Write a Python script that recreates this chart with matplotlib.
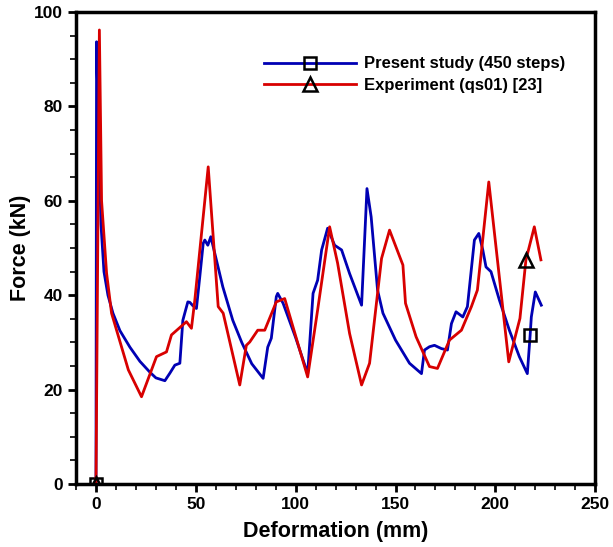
import numpy as np
import matplotlib.pyplot as plt
from matplotlib.ticker import MultipleLocator

plt.rcParams['font.family'] = ['Liberation Sans', 'DejaVu Sans']
plt.rcParams['font.weight'] = 'bold'

# present study (450 steps)
x_sim = [0, 0.3, 1.5, 2.5, 4, 6, 8.5, 12, 17, 22, 27, 30, 34.5, 37, 39.5, 42, 43.5,
         46, 47, 48.5, 50.3, 52, 53.7, 54.5, 56, 57.5, 60, 63.5, 68.5, 73, 78, 83.7,
         86, 87.8, 90.3, 91, 93.7, 100, 106, 108.7, 111, 113, 116, 119.5, 123, 127,
         133, 135.7, 137.8, 141, 143.7, 150, 157, 163, 164.5, 167, 169.5, 173, 176,
         178, 180.3, 183.7, 186, 189.5, 191.7, 193.7, 195.3, 197.8, 202, 207, 212,
         216, 217.4, 218, 220, 223]
f_sim = [0, 93.7, 70, 55, 45, 40, 36.2, 32.5, 29, 26, 23.7, 22.5, 21.9, 23.5, 25.2,
         25.6, 34.7, 38.6, 38.5, 37.8, 37.2, 44, 51, 51.7, 50.6, 52.4, 48, 41.8, 34.7,
         30, 25.5, 22.4, 29, 30.9, 39.7, 40.4, 38.3, 31, 23.4, 40.4, 43.2, 49.6, 54.2,
         50.6, 49.6, 44.6, 37.9, 62.6, 56.6, 41.1, 36.2, 30.5, 25.6, 23.4, 28.4, 29.1,
         29.4, 28.7, 28.4, 34, 36.5, 35.4, 37.6, 51.7, 53.1, 49.6, 46, 45, 39, 32.6,
         27, 23.4, 31.5, 35.4, 40.7, 37.9]

# experiment (qs01) [23]
x_exp = [0, 1.7, 2.8, 5.3, 7.8, 16.2, 22.8, 30.3, 35.3, 37.8, 45.3, 47.8, 49.5,
         56.2, 61.2, 63.7, 72, 75.3, 77, 81, 84.5, 90.3, 94.5, 106, 111, 117, 121,
         127, 133, 137, 143, 147, 153.7, 155, 160.3, 167, 171, 177, 183, 188, 191,
         196.7, 206.7, 212.3, 215.3, 219.5, 222.8]
f_exp = [0, 96.2, 60, 44.7, 36.2, 24.2, 18.5, 27, 28, 31.6, 34.4, 33, 39, 67.2,
         37.6, 36.2, 21, 29.4, 30.1, 32.6, 32.6, 38.6, 39.3, 22.7, 36.9, 54.5, 46.8,
         31.9, 21, 25.6, 47.8, 53.8, 46.4, 38.3, 31.2, 24.9, 24.5, 30.5, 32.6, 37.6,
         41.1, 64, 25.9, 35.1, 47.5, 54.5, 47.5]

fig = plt.figure(figsize=(6.13, 5.47), dpi=100)
ax = fig.add_axes([0.124, 0.115, 0.847, 0.863])

ax.plot(x_sim, f_sim, color='#0000b4', lw=2, marker='s', markersize=9,
        markerfacecolor='none', markeredgecolor='black', markeredgewidth=1.8,
        markevery=[0, x_sim.index(217.4)], label='Present study (450 steps)')
ax.plot(x_exp, f_exp, color='#d80000', lw=2, marker='^', markersize=10,
        markerfacecolor='none', markeredgecolor='black', markeredgewidth=1.8,
        markevery=[0, x_exp.index(215.3)], label='Experiment (qs01) [23]')

ax.set_xlim(-10, 250)
ax.set_ylim(0, 100)
ax.xaxis.set_major_locator(MultipleLocator(50))
ax.xaxis.set_minor_locator(MultipleLocator(10))
ax.yaxis.set_major_locator(MultipleLocator(20))
ax.yaxis.set_minor_locator(MultipleLocator(5))
ax.tick_params(which='major', direction='out', length=6, width=2, labelsize=12.5)
ax.tick_params(which='minor', direction='out', length=4, width=1.2)
for sp in ax.spines.values():
    sp.set_linewidth(2.5)

ax.set_xlabel('Deformation (mm)', fontsize=15.5, fontweight='bold', labelpad=6)
ax.set_ylabel('Force (kN)', fontsize=15.5, fontweight='bold', labelpad=2)

ax.legend(loc='upper left', bbox_to_anchor=(0.35, 0.92), frameon=False,
          fontsize=12, handlelength=5.5, handletextpad=0.5, borderaxespad=0,
          labelspacing=0.4)

plt.savefig('out.png', dpi=100)
